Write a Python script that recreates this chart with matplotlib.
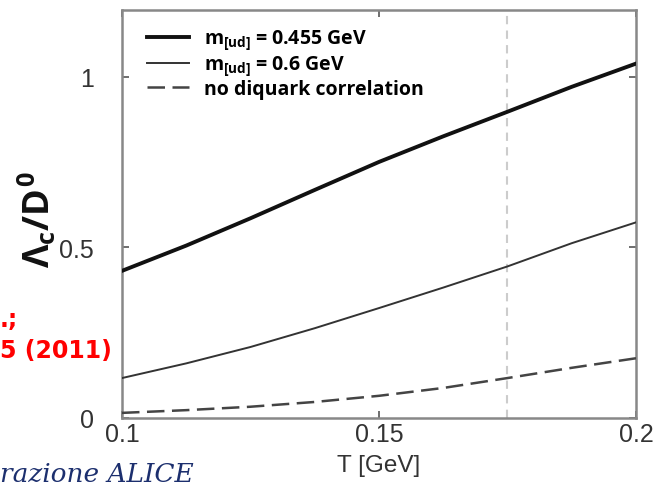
import matplotlib
matplotlib.use("Agg")
import matplotlib.pyplot as plt

# temperature grid [GeV] and Lambda_c / D0 ratios
T = [0.1, 0.1125, 0.125, 0.1375, 0.15, 0.1625, 0.175, 0.1875, 0.2]
ratio_m455 = [0.431, 0.505, 0.585, 0.668, 0.750, 0.825, 0.897, 0.970, 1.038]
ratio_m600 = [0.117, 0.160, 0.208, 0.263, 0.322, 0.382, 0.444, 0.512, 0.573]
ratio_nodq = [0.015, 0.023, 0.033, 0.047, 0.065, 0.088, 0.117, 0.147, 0.175]

labels = [
    r"$m_{[ud]}$ = 0.455 GeV",
    r"$m_{[ud]}$ = 0.6 GeV",
    "no diquark correlation",
]
T_c = 0.175
xticks = [0.1, 0.15, 0.2]
xticklabels = ["0.1", "0.15", "0.2"]
yticks = [0, 0.5, 1]
yticklabels = ["0", "0.5", "1"]

plt.rcParams["mathtext.fontset"] = "custom"
plt.rcParams["mathtext.rm"] = "Open Sans:bold"
plt.rcParams["mathtext.it"] = "Open Sans:bold"
plt.rcParams["mathtext.bf"] = "Open Sans:bold"

W, H = 660, 489
fig = plt.figure(figsize=(W / 100, H / 100), dpi=100)
ax = fig.add_axes([122 / W, 1 - 419 / H, 514 / W, 408 / H])

ax.axvline(T_c, color="#cccccc", lw=1.5, ls=(0, (4, 3)), zorder=1)

ax.plot(T, ratio_m455, color="#111111", lw=2.8, label=labels[0], zorder=3)
ax.plot(T, ratio_m600, color="#333333", lw=1.4, label=labels[1], zorder=3)
ax.plot(T, ratio_nodq, color="#444444", lw=1.8, ls=(0, (7, 3)),
        label=labels[2], zorder=3)

ax.set_xlim(0.1, 0.2)
ax.set_ylim(0, 1.195)
ax.set_xticks(xticks)
ax.set_xticklabels(xticklabels)
ax.set_yticks(yticks)
ax.set_yticklabels(yticklabels)
ax.tick_params(direction="in", length=5, width=1.2, color="#555555",
               labelsize=18, labelcolor="#333333", top=True, right=True)
ax.tick_params(axis="x", pad=3)
ax.tick_params(axis="y", pad=20)
for lab in ax.get_xticklabels() + ax.get_yticklabels():
    lab.set_family("Liberation Sans")
for s in ax.spines.values():
    s.set_color("#888888")
    s.set_linewidth(1.8)

ax.set_xlabel("T [GeV]", fontsize=17.5, color="#333333",
              family="Liberation Sans", labelpad=6)
ax.set_ylabel(r"$\Lambda_c/D^0$", fontsize=26, color="#111111")
ax.yaxis.set_label_coords(-0.125, 0.49)

leg = ax.legend(loc="upper left", bbox_to_anchor=(0.025, 0.985), frameon=False,
                prop={"family": "Open Sans", "weight": "bold", "size": 14},
                handlelength=2.2, handletextpad=0.75, labelspacing=0.05,
                borderaxespad=0.2)

# cropped annotations from the slide
fig.text(0 / W, 1 - 327 / H, ".;", color="red", fontsize=17,
         weight="bold", family="DejaVu Sans")
fig.text(0 / W, 1 - 358 / H, "5 (2011)", color="red", fontsize=17,
         weight="bold", family="DejaVu Sans")
fig.text(0 / W, 1 - 482 / H, "razione ALICE", color="#1c2f6e", fontsize=19,
         style="italic", family="DejaVu Serif")

fig.savefig("out.png", dpi=100)
